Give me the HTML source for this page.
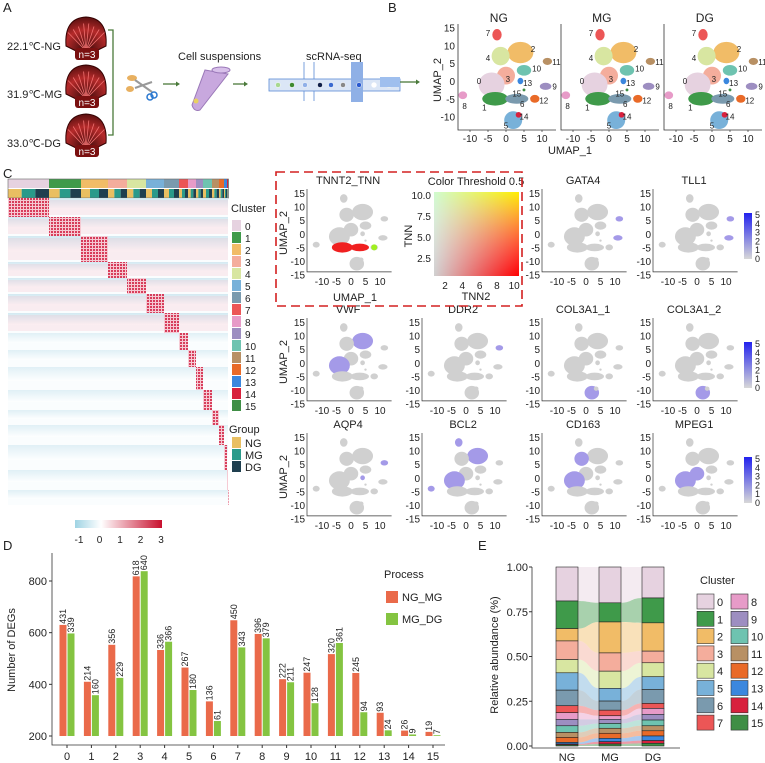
<!DOCTYPE html>
<html><head><meta charset="utf-8"><style>
html,body{margin:0;padding:0;background:#fff}
svg{display:block;font-family:"Liberation Sans",sans-serif}
</style></head><body>
<svg id="fig" width="765" height="763" viewBox="0 0 765 763">
<defs>
<linearGradient id="cbar" x1="0" x2="1"><stop offset="0" stop-color="#9fd3e3"/><stop offset="0.3" stop-color="#ffffff"/><stop offset="1" stop-color="#c8102e"/></linearGradient>
<linearGradient id="pbar" x1="0" x2="0" y1="1" y2="0"><stop offset="0" stop-color="#d8d8d8"/><stop offset="1" stop-color="#2222ee"/></linearGradient>
<linearGradient id="gx" x1="0" x2="1"><stop offset="0" stop-color="#d0d0d0"/><stop offset="1" stop-color="#ff0000"/></linearGradient>
<linearGradient id="gy" x1="0" x2="0" y1="1" y2="0"><stop offset="0" stop-color="#d0d0d0" stop-opacity="0"/><stop offset="1" stop-color="#00ee00"/></linearGradient>
<linearGradient id="rowfade" x1="0" x2="0" y1="0" y2="1"><stop offset="0" stop-color="#cfe7f0"/><stop offset="1" stop-color="#ffffff"/></linearGradient>
<radialGradient id="shell" cx="0.5" cy="0.9" r="0.9"><stop offset="0" stop-color="#3a0a0a"/><stop offset="0.6" stop-color="#b52a2a"/><stop offset="1" stop-color="#5a1010"/></radialGradient>
<pattern id="dots" width="3" height="3" patternUnits="userSpaceOnUse"><rect width="3" height="3" fill="#f6c5cf"/><rect width="2" height="2" fill="#d42a4a"/></pattern>
</defs>
<g id="root"></g>
</svg>
<script>
const NS='http://www.w3.org/2000/svg';
const root=document.getElementById('root');
function el(tag,attrs,parent){const e=document.createElementNS(NS,tag);for(const k in attrs)e.setAttribute(k,attrs[k]);(parent||root).appendChild(e);return e;}
function txt(x,y,s,size,parent,anchor,rot,fill){const t=el('text',{x:x,y:y,'font-size':size,'text-anchor':anchor||'start',fill:fill||'#222'},parent);if(rot)t.setAttribute('transform','rotate('+rot+' '+x+' '+y+')');t.textContent=s;return t;}

// ===== Data arrays =====
const degCategories=['0','1','2','3','4','5','6','7','8','9','10','11','12','13','14','15'];
const ngmgBar=[630,410,553,818,533,465,334,648,595,420,445,517,444,290,221,216];
const mgdgBar=[597,358,425,838,565,378,258,543,578,408,327,560,292,222,206,203];
const ngmgLabels=['431','214','356','618','336','267','136','450','396','222','247','320','245','93','26','19'];
const mgdgLabels=['339','160','229','640','366','180','61','343','379','211','128','361','94','24','9','7'];
const degTicks=[200,400,600,800];
const abGroups=['NG','MG','DG'];
const abNG=[.19,.154,.069,.104,.074,.097,.087,.039,.037,.036,.037,.028,.028,.009,.005,.006];
const abMG=[.20,.107,.173,.102,.096,.071,.051,.031,.020,.023,.027,.028,.028,.019,.013,.011];
const abDG=[.173,.139,.158,.065,.078,.071,.078,.028,.033,.032,.032,.028,.029,.026,.015,.015];
const abTicks=[0,0.25,0.5,0.75,1.0];
const clusterNames=['0','1','2','3','4','5','6','7','8','9','10','11','12','13','14','15'];
const clusterColors=['#e6d2e0','#3f9a4a','#f1bc67','#f4ad9c','#d8e6a1','#78b1d9','#7a9aae','#ec5656','#e79bc8','#9d8ec1','#6ec3b0','#b89064','#e96a28','#3b87de','#d8213d','#3f8e45'];

// ===== Panel labels =====
[['A',3,12],['B',388,12],['C',3,178],['D',3,550],['E',478,550]].forEach(p=>{const t=txt(p[1],p[2],p[0],13);});

// ===== Panel A =====
const gA=el('g',{});


const shellY=[20,68,117], shellLab=['22.1℃-NG','31.9℃-MG','33.0℃-DG'];
shellY.forEach((y,i)=>{
  const g=el('g',{},gA);
  
  
  el('path',{d:`M${66} ${y+26} Q${64} ${y-2} ${86} ${y-3} Q${108} ${y-2} ${106} ${y+26} L${92} ${y+33} L${80} ${y+33} Z`,fill:'url(#shell)',stroke:'#300',['stroke-width']:1},g);
  for(let k=0;k<8;k++){el('line',{x1:86,y1:y+31,x2:68+k*5.2,y2:y+2+Math.abs(3.5-k)*3,stroke:'#f07070','stroke-width':0.8},g);}
  el('rect',{x:75,y:y+28,width:24,height:12,rx:3,fill:'#7a1010'},g);
  txt(87,y+38,'n=3',10,g,'middle',0,'#fff');
  txt(7,y+30,shellLab[i],11,g);
});
el('path',{d:'M108 30 H113 V135 H108',fill:'none',stroke:'#4a7a3a','stroke-width':1.3},gA);
el('ellipse',{cx:132,cy:78,rx:5,ry:3,fill:'#e8b060'},gA);
el('ellipse',{cx:130,cy:89,rx:4,ry:3,fill:'#e8b060'},gA);
el('line',{x1:135,y1:80,x2:152,y2:92,stroke:'#999','stroke-width':2},gA);
el('line',{x1:135,y1:88,x2:152,y2:82,stroke:'#999','stroke-width':2},gA);
el('circle',{cx:154,cy:95,r:3,fill:'none',stroke:'#2a78d0','stroke-width':1.5},gA);
el('circle',{cx:150,cy:97,r:3,fill:'none',stroke:'#2a78d0','stroke-width':1.5},gA);
[[163,180],[233,248]].forEach(a=>{el('line',{x1:a[0],y1:84,x2:a[1]-3,y2:84,stroke:'#4a7a3a','stroke-width':1.3},gA);el('path',{d:`M${a[1]} 84 l-4 -2.5 v5 z`,fill:'#4a7a3a'},gA);});
el('path',{d:'M205 70 L228 74 L200 110 Q194 112 192 105 Z',fill:'#c8a8de',stroke:'#9a78b8'},gA);
el('ellipse',{cx:221,cy:70,rx:9,ry:3,fill:'#d8c0ea',stroke:'#9a78b8'},gA);
el('circle',{cx:196,cy:101,r:2.5,fill:'#e8d060'},gA);
txt(178,60,'Cell suspensions',11,gA);
txt(306,60,'scRNA-seq',11,gA);
el('rect',{x:269,y:79,width:131,height:12,fill:'#dbe6f6',stroke:'#5a8ad6','stroke-width':0.8},gA);
el('path',{d:'M304 62 V79 M314 62 V79 M304 91 V101 M314 91 V101',stroke:'#5a8ad6','stroke-width':0.8,fill:'none'},gA);
el('rect',{x:351,y:62,width:12,height:40,fill:'#8fb0e6'},gA);
[[278,'#a8d890'],[292,'#3e8a30'],[305,'#90b0e8'],[320,'#10204a'],[331,'#3a6ad0'],[343,'#888'],[359,'#2a5ad0'],[374,'#fff'],[389,'#c8e0b0']].forEach(d=>el('circle',{cx:d[0],cy:85,r:2.5,fill:d[1],stroke:'#fff','stroke-width':0.5},gA));
el('rect',{x:380,y:77,width:20,height:10,fill:'#9fbfee'},gA);
el('line',{x1:400,y1:82,x2:416,y2:82,stroke:'#4a7a3a','stroke-width':1.3},gA);
el('path',{d:'M420 82 l-4 -2.5 v5 z',fill:'#4a7a3a'},gA);

// ===== UMAP blob template (data coords) =====
const blobs=[
 [7,-2.5,13,1.3,1.6],[2,4,8,3.6,3],[4,-1.5,7,2.5,2.6],[10,5,3,2,1.5],[11,11.5,5.5,1.3,1],
 [3,0,1.5,2.5,2.5],[0,-4,-1,3.6,3.4],[13,4,0,0.8,0.9],[9,11,-1.5,1.6,1],[15,5,-2.5,0.4,0.4],
 [8,-12,-4,1.2,1.1],[1,-3,-5,3.6,1.9],[6,3,-5,3.2,1.4],[12,8,-5,1.3,1.1],[5,2,-11,2.5,2.5],[14,3.5,-9.5,0.8,0.8]
];
function umap(g,ox,oy,sx,sy,colorFn,name){
  blobs.forEach(b=>{
    const e=el('ellipse',{cx:ox+b[1]*sx,cy:oy-b[2]*sy,rx:b[3]*sx,ry:b[4]*sy,fill:colorFn(b[0])},g);
    
    
  });
}

// ===== Panel B =====
const gB=el('g',{});


const bOff=[0,103,206], bNames=['NG','MG','DG'];
const labelPos=[[7,-5,13.5],[2,7.5,9],[4,-5,6.5],[10,8.5,3.5],[11,14,5.3],[3,0.5,0.5],[0,-7.5,0],[13,6,-0.5],[9,13.5,-1.5],[15,3,-3.5],[8,-11.5,-7],[1,-6,-7.5],[6,4.5,-6.5],[12,10.5,-5.5],[5,0,-12.5],[14,5,-10]];
bOff.forEach((o,i)=>{
  const g=el('g',{},gB);
  
  
  const ox=506+o, oy=81, sx=3.6, sy=3.56;
  umap(g,ox,oy,sx,sy,c=>clusterColors[c],'umap-'+bNames[i].toLowerCase());
  labelPos.forEach(l=>txt(ox+l[1]*sx,oy-l[2]*sy+3,String(l[0]),8,g,'middle'));
  el('path',{d:`M${458+o} 24 V130 H${556+o}`,fill:'none',stroke:'#333','stroke-width':0.8},g);
  txt(ox+(-2)*sx,22,bNames[i],12,g,'middle');
  [-10,-5,0,5,10].forEach(v=>{el('line',{x1:ox+v*sx,y1:130,x2:ox+v*sx,y2:132,stroke:'#333','stroke-width':0.7},g);txt(ox+v*sx,142,String(v),10,g,'middle');});
  if(i===0){[15,10,5,0,-5,-10].forEach(v=>{txt(455,oy-v*sy+4,String(v),10,g,'end');});}
});
txt(441,80,'UMAP_2',11,gB,'middle',-90);
txt(570,154,'UMAP_1',11,gB,'middle');

// ===== Panel C heatmap =====
const gC=el('g',{});


const colB=[8,49,81,108,127,146,164,179,188,196,203,212,219,224,227,228];
const hTop=198,hBot=505;
el('rect',{x:8,y:hTop,width:220,height:hBot-hTop,fill:'#fafdfe'},gC);
for(let i=0;i<16;i++){
  const bx=colB[i], bw=(colB[i+1]||228.5)-bx;
  const r=el('rect',{x:bx,y:179,width:bw,height:9,fill:clusterColors[i]},gC);
  
  
  const gc=['#e9bf62','#2a9a8a','#1f3f4f'];
  for(let k=0;k<3;k++) el('rect',{x:bx+bw*k/3,y:189,width:bw/3,height:9,fill:gc[k]},gC);
}
el('rect',{x:8,y:179,width:220.5,height:19,fill:'none',stroke:'#666','stroke-width':0.6},gC);
const rowB=[198,217,236,262,278,294,313,333,350,367,390,410,425,445,470,490,505];
for(let i=0;i<16;i++){
  const y0=rowB[i],h=rowB[i+1]-y0;
  el('rect',{x:8,y:y0,width:220,height:h*0.6,fill:'url(#rowfade)',opacity:i<7?0.9:0.6},gC);
  if(i<7){el('rect',{x:8,y:y0+2,width:220,height:h-4,fill:'#f2a0b0',opacity:0.18},gC);}
  const bx=colB[i],bw=(colB[i+1]||228.5)-bx;
  const blk=el('rect',{x:bx,y:y0,width:bw,height:h,fill:'url(#dots)',opacity:0.9},gC);
  
  
}
txt(231,212,'Cluster',11,gC);
clusterNames.forEach((n,i)=>{const r=el('rect',{x:232,y:220+i*12,width:9,height:11,fill:clusterColors[i]},gC);txt(245,230+i*12,n,10,gC);});
txt(229,433,'Group',11,gC);
[['NG','#e9bf62'],['MG','#2a9a8a'],['DG','#1f3f4f']].forEach((g,i)=>{el('rect',{x:232,y:437+i*12,width:9,height:11,fill:g[1]},gC);txt(245,447+i*12,g[0],11,gC);});
el('rect',{x:75,y:520,width:87,height:8,fill:'url(#cbar)'},gC);
['-1','0','1','2','3'].forEach((s,i)=>txt(79+i*20.5,543,s,10,gC,'middle'));

// ===== Panel C feature plots =====
const gF=el('g',{});


const feats=[
 ['TNNT2_TNN',0,0],['GATA4',0,2],['TLL1',0,3],
 ['VWF',1,0],['DDR2',1,1],['COL3A1_1',1,2],['COL3A1_2',1,3],
 ['AQP4',2,0],['BCL2',2,1],['CD163',2,2],['MPEG1',2,3]];
const colX=[322,437,557,668], rowTop=[193,322,437];
const hot={GATA4:[11,9],TLL1:[11,9],VWF:[0,2],DDR2:[11],COL3A1_1:[5],COL3A1_2:[5],AQP4:[11,13],BCL2:[0,8,7,2],CD163:[4,0],MPEG1:[0,3]};
feats.forEach(f=>{
  const g=el('g',{},gF);
  
  
  const sx=2.9, sy=2.72;
  const ox=colX[f[2]]+10*sx, oy=rowTop[f[1]]+15*sy;
  const hl=hot[f[0]]||[];
  umap(g,ox,oy,sx,sy,c=> f[0]==='TNNT2_TNN' ? ((c===1||c===6)?'#f02020':'#d0d0d0') : (hl.indexOf(c)>=0?'#a49ae8':'#d0d0d0'),'feature-'+f[0].toLowerCase());
  if(f[0]==='TNNT2_TNN') el('circle',{cx:ox+8*sx,cy:oy+5*sy,r:3,fill:'#a0f020'},g);
  const left=colX[f[2]]-15;
  el('path',{d:`M${left} ${rowTop[f[1]]-4} V${oy+14*sy} H${ox+14*sx}`,fill:'none',stroke:'#333','stroke-width':0.7},g);
  txt(ox+(-1)*sx,rowTop[f[1]]-9,f[0],11,g,'middle');
  [15,10,5,0,-5,-10,-15].forEach(v=>txt(left-2,oy-v*sy+4,String(v),10,g,'end'));
  [-10,-5,0,5,10].forEach(v=>txt(ox+v*sx,oy+14*sy+13,String(v),10,g,'middle'));
});
[0,1,2].forEach(r=>{txt(287,rowTop[r]+40,'UMAP_2',11,gF,'middle',-90);
  const cb=el('rect',{x:744,y:rowTop[r]+20,width:8,height:46,fill:'url(#pbar)'},gF);
  
  ['5','4','3','2','1','0'].forEach((s,i)=>txt(755,rowTop[r]+25+i*8.8,s,9,gF));});
txt(355,301,'UMAP_1',11,gF,'middle');
const sq=el('g',{},gF);


el('rect',{x:434,y:192,width:85,height:84,fill:'url(#gx)'},sq);
el('rect',{x:434,y:192,width:85,height:84,fill:'url(#gy)',style:'mix-blend-mode:screen'},sq);
txt(476,185,'Color Threshold 0.5',11,sq,'middle');
['10.0','7.5','5.0','2.5'].forEach((s,i)=>txt(431,199+i*21,s,10,sq,'end'));
['2','4','6','8','10'].forEach((s,i)=>txt(445+i*17.3,289,s,10,sq,'middle'));
txt(412,236,'TNN',11,sq,'middle',-90);
txt(476,300,'TNN2',11,sq,'middle');
el('rect',{x:276,y:172,width:246,height:134,fill:'none',stroke:'#d42020','stroke-width':1.6,'stroke-dasharray':'9 5'},gF);

// ===== Panel D =====
const gD=el('g',{});


const yD=v=>736-(v-200)*155/600, xD=i=>67+i*24.4;
el('path',{d:'M52 553 V745 H445',fill:'none',stroke:'#333','stroke-width':0.8},gD);
degTicks.forEach(v=>{el('line',{x1:49,x2:52,y1:yD(v),y2:yD(v),stroke:'#333'},gD);txt(47,yD(v)+4,String(v),11,gD,'end');});
txt(15,650,'Number of DEGs',11,gD,'middle',-90);
degCategories.forEach((c,i)=>{
  const x=xD(i);
  const a=el('rect',{x:x-7.5,y:yD(ngmgBar[i]),width:7,height:736-yD(ngmgBar[i]),fill:'#ea6a4a'},gD);
  
  const b=el('rect',{x:x+0.5,y:yD(mgdgBar[i]),width:7,height:736-yD(mgdgBar[i]),fill:'#84c441'},gD);
  
  txt(x-1,yD(ngmgBar[i])-1,ngmgLabels[i],9,gD,'start',-90);
  txt(x+7,yD(mgdgBar[i])-1,mgdgLabels[i],9,gD,'start',-90);
  el('line',{x1:x,x2:x,y1:745,y2:748,stroke:'#333'},gD);
  txt(x,760,c,11,gD,'middle');
});
txt(384,578,'Process',11,gD);
const l1=el('rect',{x:386,y:591,width:12,height:12,fill:'#ea6a4a'},gD);
txt(402,601,'NG_MG',11,gD);
const l2=el('rect',{x:386,y:613,width:12,height:12,fill:'#84c441'},gD);
txt(402,623,'MG_DG',11,gD);

// ===== Panel E =====
const gE=el('g',{});


const yE=v=>746-v*179;
const barX=[556,599,642], bw=22;
const series=[abNG,abMG,abDG];
const cum=series.map(s=>{let acc=1;return s.map(v=>{const top=acc;acc-=v;return [top,acc];});});
for(let k=0;k<16;k++){
  for(let g=0;g<2;g++){
    const a=cum[g][k],b=cum[g+1][k];
    const x1=barX[g]+bw,x2=barX[g+1],xm=(x1+x2)/2;
    el('path',{d:`M${x1} ${yE(a[0])} C${xm} ${yE(a[0])} ${xm} ${yE(b[0])} ${x2} ${yE(b[0])} L${x2} ${yE(b[1])} C${xm} ${yE(b[1])} ${xm} ${yE(a[1])} ${x1} ${yE(a[1])} Z`,fill:clusterColors[k],opacity:0.45},gE);
  }
  for(let g=0;g<3;g++){
    const c=cum[g][k];
    const r=el('rect',{x:barX[g],y:yE(c[0]),width:bw,height:yE(c[1])-yE(c[0]),fill:clusterColors[k],stroke:'#222','stroke-width':0.6},gE);
    
    
  }
}
el('path',{d:'M532 567 V748 H680',fill:'none',stroke:'#333','stroke-width':0.8},gE);
abTicks.forEach(v=>{el('line',{x1:529,x2:532,y1:yE(v),y2:yE(v),stroke:'#333'},gE);txt(528,yE(v)+4,v.toFixed(2),11,gE,'end');});
abGroups.forEach((g,i)=>txt(barX[i]+bw/2,761,g,11,gE,'middle'));
txt(498,655,'Relative abundance (%)',11,gE,'middle',-90);
txt(700,584,'Cluster',11,gE);
clusterNames.forEach((n,i)=>{
  const col=i<8?0:1, row=i%8;
  const x=col?731:697, y=594+row*17.3;
  const r=el('rect',{x:x,y:y,width:17,height:15,fill:clusterColors[i],stroke:'#333','stroke-width':0.6},gE);
  
  
  txt(x+20,y+12,n,11,gE);
});
</script>
</body></html>
